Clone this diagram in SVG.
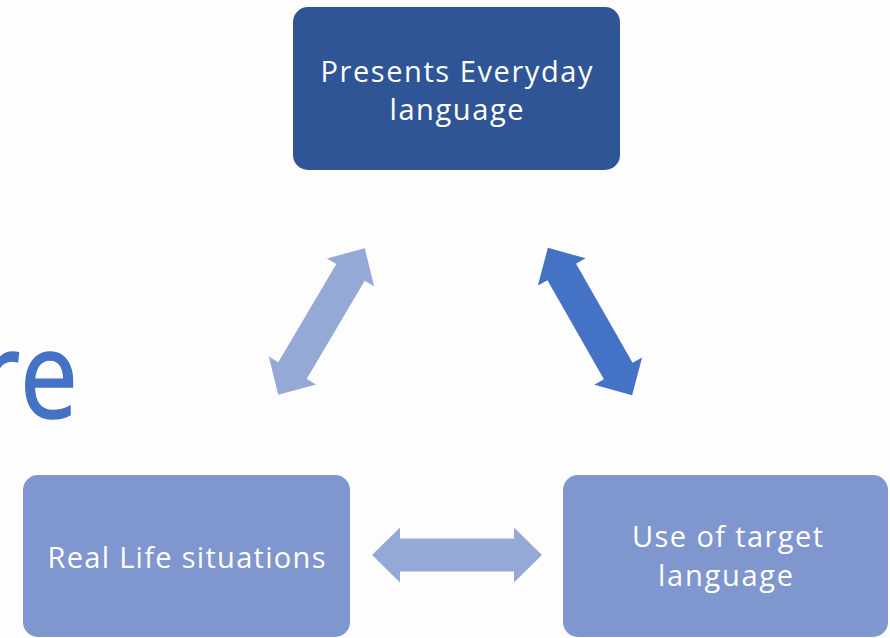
<svg xmlns="http://www.w3.org/2000/svg" width="890" height="638" viewBox="0 0 890 638">
  <style>
    .lbl { font-family: "Open Sans", "Liberation Sans", sans-serif; font-size: 29px; fill: #ffffff; text-anchor: middle; }
    .big { font-family: "Open Sans", "Liberation Sans", sans-serif; font-size: 120px; fill: #4472C4; text-anchor: end; }
  </style>
  <defs>
    <polygon id="dbl" points="-85,0 -57,-27.5 -57,-16.5 57,-16.5 57,-27.5 85,0 57,27.5 57,16.5 -57,16.5 -57,27.5"/>
  </defs>
  <rect width="890" height="638" fill="#fdfdfd"/>
  <g id="title-fragment">
    <text class="big" transform="translate(78,418) scale(0.86,1)" x="0" y="0" stroke="#4472C4" stroke-width="1.5">re</text>
  </g>
  <g id="connectors">
    <use href="#dbl" fill="#95a9d6" transform="translate(321.5,321.5) rotate(-59.4)"/>
    <use href="#dbl" fill="#4472c4" transform="translate(590,321.5) rotate(60.3)"/>
    <use href="#dbl" fill="#95a9d6" transform="translate(457,555)"/>
  </g>
  <g id="node-presents">
    <rect x="293" y="7" width="327" height="163" rx="15" fill="#2f5597"/>
    <text class="lbl" x="456.5" y="82" textLength="272">Presents Everyday</text>
    <text class="lbl" x="456.5" y="120" textLength="134">language</text>
  </g>
  <g id="node-real-life">
    <rect x="23" y="475" width="327" height="162" rx="15" fill="#8096ce"/>
    <text class="lbl" x="186.5" y="568" textLength="278">Real Life situations</text>
  </g>
  <g id="node-target">
    <rect x="563" y="475" width="325" height="162" rx="15" fill="#8096ce"/>
    <text class="lbl" x="727.5" y="547" textLength="191">Use of target</text>
    <text class="lbl" x="725.5" y="586" textLength="135">language</text>
  </g>
</svg>
